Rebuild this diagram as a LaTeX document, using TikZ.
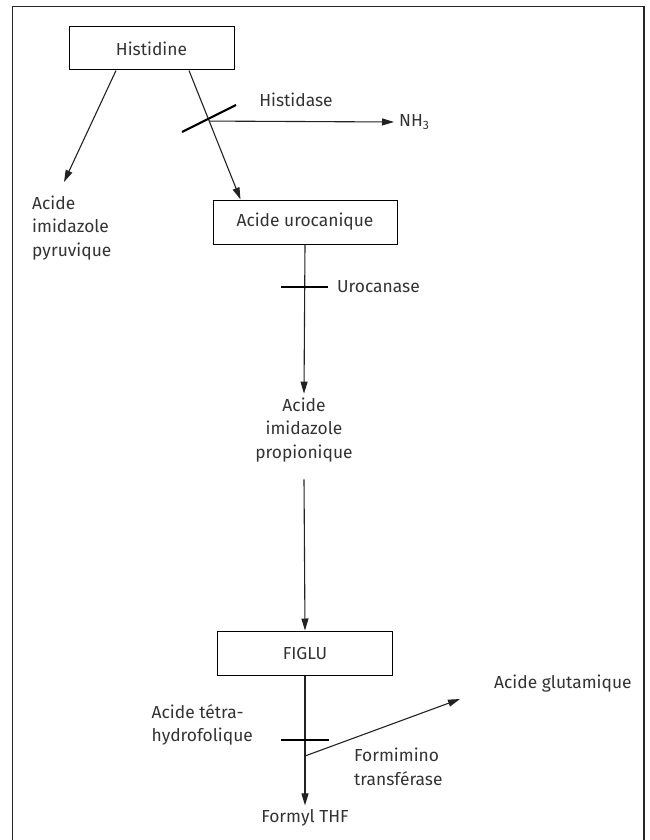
\documentclass[tikz,border=0pt]{standalone}
\usepackage{fontspec}
\setmainfont{Fira Sans}
\usetikzlibrary{arrows.meta,calc}
\definecolor{ink}{HTML}{333333}
\definecolor{wire}{HTML}{222222}

\begin{document}
\begin{tikzpicture}[x=1pt,y=-1pt,
  every node/.style={font=\fontsize{17.4}{23.5}\selectfont, text=ink},
  box/.style={draw=black, line width=1pt, inner sep=0pt, minimum height=44pt},
  lbl/.style={inner sep=0pt},
  conn/.style={draw=wire, line width=1.1pt, -{Triangle[length=12pt,width=7pt]}},
  enzbar/.style={draw=black, line width=2.2pt},
]
\useasboundingbox (0,0) rectangle (649,840);

% outer frame, open at the bottom
\draw[line width=1.5pt, draw=black!85] (12.5,850) -- (12.5,6.5) -- (644,6.5) -- (644,850);

% boxes
\node[box, minimum width=165pt, minimum height=43pt] (his) at (151.5,48.5) {Histidine};
\node[box, minimum width=184pt] (uro) at (305,222) {Acide urocanique};
\node[box, minimum width=175pt] (figlu) at (305,653) {FIGLU};

% labels
\node[lbl, anchor=west, align=left] (pyr) at (32,228) {Acide\\imidazole\\pyruvique};
\node[lbl, align=center] (prop) at (304,430) {Acide\\imidazole\\propionique};
\node[lbl] (hase) at (296,100) {Histidase};
\node[lbl, anchor=west] (nh3) at (399,122) {NH\textsubscript{3}};
\node[lbl, anchor=west] (ucase) at (337,287) {Urocanase};
\node[lbl, anchor=west] (glu) at (494,684) {Acide glutamique};
\node[lbl, anchor=west, align=left] (thfa) at (151.5,725) {Acide tétra-\\hydrofolique};
\node[lbl, anchor=west, align=left] (fti) at (354,767) {Formimino\\transférase};
\node[lbl] (formyl) at (305,818) {Formyl THF};

% free ends and branch points
\coordinate (pyrtip) at (64,182);
\coordinate (his1) at ($(his.south)+(-35.5,0)$);
\coordinate (his2) at ($(his.south)+(37.5,0)$);
\coordinate (urotip) at ($(uro.north west)+(28,0)$);
\coordinate (nhbranch) at ($(his2)!0.392!(urotip)$);
\coordinate (ftbranch) at (305,756);
\coordinate (glutip) at (460,699);

% Histidine branches
\draw[conn] (his1) -- (pyrtip);
\draw[conn] (his2) -- (urotip);
\draw[enzbar] (182,132) -- (236,105);
\draw[conn] (nhbranch) -- ($(nh3.west)+(-5,0)$);

% main chain
\draw[conn] (uro.south) -- ($(prop.north)+(0,-4)$);
\draw[enzbar] (281,287) -- (328,287);
\draw[conn] ($(prop.south)+(0,17)$) -- (figlu.north);
\draw[conn] (figlu.south) -- ($(formyl.north)+(0,-4)$);
\draw[enzbar] (281,740) -- (329,740);
\draw[conn] (ftbranch) -- (glutip);
\end{tikzpicture}
\end{document}
